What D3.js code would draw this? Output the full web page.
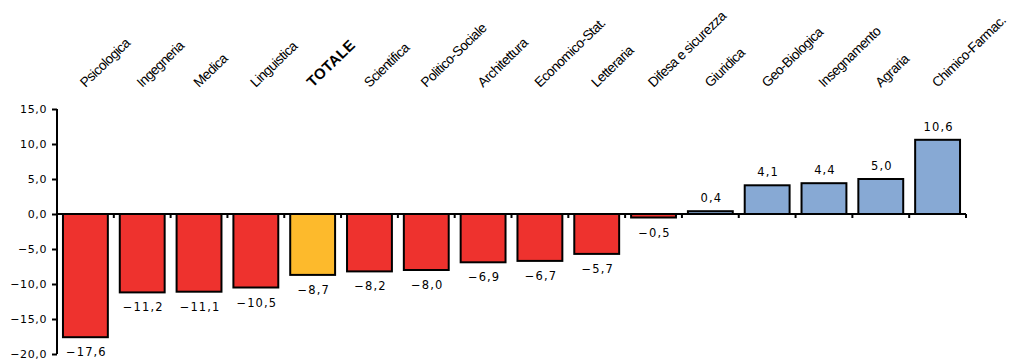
<!DOCTYPE html>
<html><head><meta charset="utf-8">
<script src="https://cdn.jsdelivr.net/npm/d3@7"></script>
<style>html,body{margin:0;padding:0;background:#fff;}</style>
</head><body>
<svg id="chart" width="1009" height="360"></svg>
<script>
const categories = ["Psicologica","Ingegneria","Medica","Linguistica","TOTALE","Scientifica","Politico-Sociale","Architettura","Economico-Stat.","Letteraria","Difesa e sicurezza","Giuridica","Geo-Biologica","Insegnamento","Agraria","Chimico-Farmac."];
const values = [-17.6,-11.2,-11.1,-10.5,-8.7,-8.2,-8.0,-6.9,-6.7,-5.7,-0.5,0.4,4.1,4.4,5.0,10.6];
const yTicks = [15,10,5,0,-5,-10,-15,-20];
const totalCategory = "TOTALE";

const svg = d3.select("#chart");
const loc = d3.formatLocale({decimal: ",", thousands: ".", grouping: [3], currency: ["", "€"], minus: "\u2212"});
const fmt = loc.format(".1f");

const x = d3.scaleBand().domain(categories).range([57, 966]).paddingInner(0.21).paddingOuter(0.105);
const y = d3.scaleLinear().domain([-20, 15]).range([354, 109]);

const color = (c, v) => c === totalCategory ? "#FDBA2C" : (v < 0 ? "#EE322E" : "#87A9D4");

// bars
svg.append("g").selectAll("rect").data(categories).join("rect")
  .attr("x", d => x(d))
  .attr("width", x.bandwidth())
  .attr("y", (d,i) => y(Math.max(0, values[i])))
  .attr("height", (d,i) => Math.abs(y(values[i]) - y(0)))
  .attr("fill", (d,i) => color(d, values[i]))
  .attr("stroke", "#000").attr("stroke-width", 2);

// y axis
const yAxis = svg.append("g").attr("transform", "translate(57,0)")
  .call(d3.axisLeft(y).tickValues(yTicks).tickFormat(fmt).tickSize(5).tickSizeOuter(0).tickPadding(5));
yAxis.select(".domain").attr("stroke-width", 2).attr("d", `M0,${y(15)}V${y(-20)}`);
yAxis.selectAll(".tick line").attr("stroke-width", 2);
yAxis.selectAll(".tick text").attr("font-family", "DejaVu Sans").attr("font-size", 11).attr("letter-spacing", 0.6).attr("fill", "#000");

// zero line with boundary ticks
const step = x.step();
const bounds = categories.map(c => x(c) - x.paddingInner() * step / 2).slice(1).concat([x.range()[1]]);
svg.append("line").attr("x1", 57).attr("x2", x.range()[1]).attr("y1", y(0)).attr("y2", y(0))
  .attr("stroke", "#000").attr("stroke-width", 2);
svg.append("g").selectAll("line").data(bounds).join("line")
  .attr("x1", d => d).attr("x2", d => d).attr("y1", y(0)).attr("y2", y(0) + 4)
  .attr("stroke", "#000").attr("stroke-width", 2);

// value labels
svg.append("g").selectAll("text").data(categories).join("text")
  .attr("x", d => x(d) + x.bandwidth() / 2 + 1)
  .attr("y", (d,i) => values[i] < 0 ? y(values[i]) + 19 : y(values[i]) - 9)
  .attr("text-anchor", "middle")
  .attr("font-family", "DejaVu Sans").attr("font-size", 11.5).attr("letter-spacing", 1.1)
  .attr("fill", "#000")
  .text((d,i) => fmt(values[i]));

// category labels
svg.append("g").selectAll("text").data(categories).join("text")
  .attr("transform", d => `translate(${x(d) + x.bandwidth() / 2},88) rotate(-44)`)
  .attr("font-family", "Liberation Sans, Arial").attr("font-size", d => d === totalCategory ? 15 : 13.7)
  .attr("font-weight", d => d === totalCategory ? "bold" : "normal")
  .attr("letter-spacing", d => d === totalCategory ? 0.3 : -0.55)
  .attr("fill", "#000")
  .text(d => d);
</script>
</body></html>
